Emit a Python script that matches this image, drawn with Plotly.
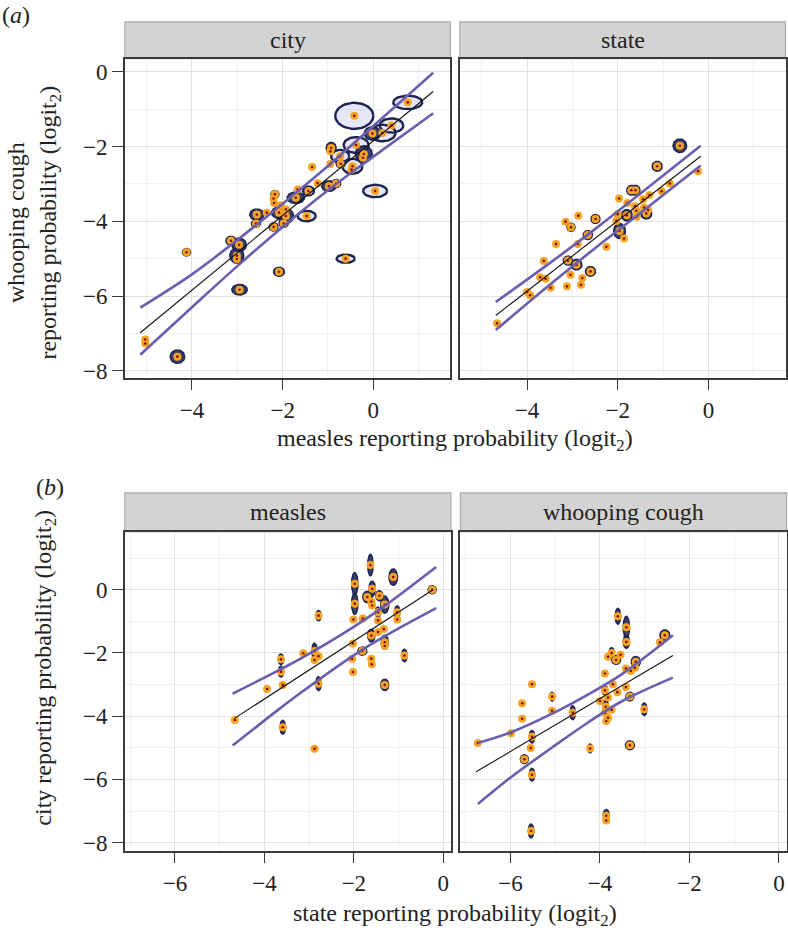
import numpy as np
import plotly.graph_objects as go

W, H = 788, 940

# ---------------- data ----------------
# (a) city: measles (x) vs whooping cough (y) reporting probability, logit2
city_x = [0.76, -0.42, 0.40, 0.20, -0.02, -0.38, -0.93, -0.95, -0.73, -0.21, -0.23, -0.72, -0.95,
          -0.46, -0.48, -1.35, -1.23, -0.98, -0.82, 0.04, -1.43, -1.67, -1.71, -2.17, -2.20, -2.19,
          -2.04, -1.93, -2.08, -1.93, -2.35, -2.57, -1.47, -2.59, -2.20, -1.98, -3.14, -2.96, -3.01,
          -3.01, -4.12, -0.61, -2.08, -2.95, -5.03, -5.03, -4.32]
city_y = [-0.82, -1.18, -1.44, -1.64, -1.65, -1.96, -2.04, -2.13, -2.26, -2.20, -2.30, -2.46, -2.47,
          -2.53, -2.62, -2.55, -2.98, -3.06, -2.99, -3.19, -3.19, -3.15, -3.37, -3.28, -3.39, -3.51,
          -3.57, -3.68, -3.77, -3.86, -3.77, -3.82, -3.86, -4.06, -4.15, -4.06, -4.52, -4.63, -4.92,
          -5.01, -4.83, -5.00, -5.35, -5.83, -7.16, -7.27, -7.62]
city_sx = [0.32, 0.42, 0.26, 0.29, 0.18, 0.275, 0.11, 0, 0.20, 0.185, 0, 0.10, 0,
           0.22, 0, 0, 0, 0.16, 0.10, 0.265, 0.13, 0, 0.19, 0.09, 0, 0,
           0, 0, 0.165, 0.17, 0, 0.155, 0.20, 0.10, 0.10, 0.10, 0.11, 0.16, 0.155,
           0, 0.09, 0.20, 0.12, 0.17, 0, 0, 0.16]
city_sy = [0.18, 0.35, 0.19, 0.22, 0.18, 0.21, 0.15, 0, 0.17, 0.22, 0, 0.11, 0,
           0.20, 0, 0, 0, 0.14, 0.11, 0.165, 0.13, 0, 0.155, 0.10, 0, 0,
           0, 0, 0.155, 0.20, 0, 0.15, 0.14, 0.10, 0.11, 0.11, 0.12, 0.18, 0.20,
           0, 0.10, 0.11, 0.12, 0.14, 0, 0, 0.18]
city_fit_x = [-5.14, 1.32]
city_fit_y = [-6.98, -0.53]
city_band_x = [-5.14, -4.0, -3.0, -2.0, -1.0, 0.0, 1.32]
city_upper = [-6.31, -5.42, -4.50, -3.53, -2.52, -1.45, -0.03]
city_lower = [-7.57, -6.30, -5.20, -4.15, -3.17, -2.27, -1.11]

# (a) state
state_x = [-0.63, -1.13, -0.23, -0.85, -1.03, -1.70, -1.61, -1.30, -1.44, -1.97, -1.79, -1.62, -1.42,
           -1.33, -1.59, -1.37, -1.80, -2.00, -1.58, -2.03, -1.96, -1.86, -2.25, -2.87, -3.15, -3.03,
           -2.49, -2.66, -3.36, -2.88, -3.63, -3.10, -2.91, -2.60, -3.04, -3.71, -3.59, -2.78, -2.81,
           -3.48, -3.12, -4.00, -3.93, -4.66]
state_y = [-1.98, -2.53, -2.66, -2.99, -3.20, -3.17, -3.17, -3.30, -3.41, -3.39, -3.51, -3.60, -3.63,
           -3.70, -3.72, -3.79, -3.84, -3.81, -3.88, -3.99, -4.26, -4.46, -4.68, -3.85, -4.01, -4.16,
           -3.94, -4.37, -4.61, -4.61, -5.06, -5.05, -5.16, -5.34, -5.43, -5.50, -5.54, -5.52, -5.70,
           -5.78, -5.74, -5.89, -5.98, -6.73]
state_sx = [0.15, 0.11, 0, 0, 0, 0.10, 0.10, 0, 0, 0, 0, 0, 0,
            0, 0, 0.12, 0.12, 0, 0, 0, 0.13, 0, 0, 0, 0, 0.09,
            0.10, 0.10, 0, 0, 0, 0.10, 0.12, 0.11, 0, 0, 0, 0, 0,
            0, 0, 0, 0, 0]
state_sy = [0.18, 0.13, 0, 0, 0, 0.13, 0.13, 0, 0, 0, 0, 0, 0,
            0, 0, 0.15, 0.15, 0, 0, 0, 0.20, 0, 0, 0, 0, 0.11,
            0.12, 0.12, 0, 0, 0, 0.12, 0.14, 0.13, 0, 0, 0, 0, 0,
            0, 0, 0, 0, 0]
state_fit_x = [-4.69, -0.17]
state_fit_y = [-6.52, -2.26]
state_band_x = [-4.69, -3.5, -2.5, -1.5, -0.17]
state_upper = [-6.16, -5.12, -4.21, -3.26, -1.98]
state_lower = [-6.91, -5.70, -4.72, -3.78, -2.51]

# (b) measles: state (x) vs city (y)
meas_x = [-0.25, -1.12, -1.63, -1.59, -1.98, -1.98, -2.01, -1.70, -1.43, -1.61, -1.59, -1.31, -1.80,
          -1.46, -1.46, -1.03, -1.03, -2.79, -1.33, -1.46, -1.61, -1.31, -1.31, -2.02, -1.81, -0.87,
          -3.13, -2.88, -2.79, -2.88, -2.04, -1.61, -1.60, -2.02, -3.63, -3.63, -3.59, -3.94, -2.79,
          -1.31, -4.66, -3.59, -2.88]
meas_y = [0.00, 0.40, 0.78, 0.03, 0.19, -0.44, -0.94, -0.23, -0.19, -0.37, -0.50, -0.47, -0.91,
          -0.71, -0.97, -0.71, -0.94, -0.82, -1.24, -1.34, -1.45, -1.66, -1.78, -1.70, -1.94, -2.08,
          -2.01, -1.94, -2.10, -2.22, -2.18, -2.18, -2.36, -2.60, -2.20, -2.59, -3.01, -3.14, -2.97,
          -3.01, -4.12, -4.35, -5.03]
meas_sx = [0.09, 0.095, 0.06, 0.07, 0.07, 0.07, 0, 0.10, 0.08, 0, 0, 0.09, 0,
           0.06, 0, 0.06, 0, 0.06, 0, 0, 0.08, 0.08, 0, 0, 0.10, 0.06,
           0, 0.06, 0, 0, 0, 0, 0, 0, 0.06, 0.06, 0, 0, 0.06,
           0.09, 0, 0.06, 0]
meas_sy = [0.13, 0.26, 0.34, 0.24, 0.35, 0.34, 0, 0.18, 0.16, 0, 0, 0.27, 0,
           0.16, 0, 0.20, 0, 0.16, 0, 0, 0.20, 0.22, 0, 0, 0.13, 0.20,
           0, 0.25, 0, 0, 0, 0, 0, 0, 0.17, 0.17, 0, 0, 0.22,
           0.18, 0, 0.22, 0]
meas_fit_x = [-4.67, -0.23]
meas_fit_y = [-4.07, 0.00]
meas_band_x = [-4.71, -3.63, -3.18, -2.02, -1.31, -0.16]
meas_upper = [-3.29, -2.51, -2.17, -1.19, -0.51, 0.72]
meas_lower = [-4.93, -3.73, -3.25, -2.09, -1.47, -0.58]

# (b) whooping cough
wc_x = [-2.55, -2.66, -3.60, -3.41, -3.41, -3.74, -3.82, -3.54, -3.64, -3.20, -3.22, -3.42, -3.31,
        -3.89, -3.71, -3.42, -3.89, -3.61, -3.33, -3.82, -4.00, -3.87, -3.74, -3.89, -3.82, -3.86,
        -3.01, -4.61, -5.07, -5.07, -5.52, -5.74, -5.74, -5.99, -5.52, -5.55, -5.69, -5.52, -6.73,
        -4.22, -3.33, -5.54, -3.86, -3.86]
wc_y = [-1.44, -1.66, -0.84, -1.19, -1.65, -2.00, -2.12, -2.06, -2.22, -2.28, -2.47, -2.49, -2.57,
        -2.65, -2.99, -3.08, -3.18, -3.24, -3.38, -3.41, -3.52, -3.70, -3.80, -3.89, -4.05, -4.15,
        -3.78, -3.89, -3.38, -3.83, -2.99, -3.59, -4.08, -4.54, -4.65, -5.01, -5.36, -5.85, -4.85,
        -5.02, -4.92, -7.63, -7.15, -7.30]
wc_sx = [0.11, 0, 0.06, 0.07, 0.07, 0.06, 0, 0, 0.10, 0.10, 0, 0, 0,
         0, 0, 0, 0.06, 0, 0.09, 0, 0, 0.06, 0, 0, 0, 0,
         0.06, 0.06, 0.05, 0, 0, 0, 0, 0, 0.06, 0, 0.09, 0.06, 0,
         0.05, 0.10, 0.06, 0.07, 0]
wc_sy = [0.17, 0, 0.25, 0.35, 0.20, 0.17, 0, 0, 0.14, 0.17, 0, 0, 0,
         0, 0, 0, 0.15, 0, 0.14, 0, 0, 0.20, 0, 0, 0, 0,
         0.20, 0.22, 0.14, 0, 0, 0, 0, 0, 0.20, 0, 0.14, 0.20, 0,
         0.14, 0.14, 0.22, 0.20, 0]
wc_fit_x = [-6.77, -2.37]
wc_fit_y = [-5.76, -2.08]
wc_band_x = [-6.73, -5.99, -5.07, -4.3, -3.5, -2.37]
wc_upper = [-4.85, -4.51, -3.92, -3.34, -2.66, -1.44]
wc_lower = [-6.78, -5.93, -4.99, -4.23, -3.52, -2.78]

strip_labels = ["city", "state", "measles", "whooping cough"]
ticks_a_x = [-4, -2, 0]
ticks_a_y = [0, -2, -4, -6, -8]
ticks_b_x = [-6, -4, -2, 0]
ticks_b_y = [0, -2, -4, -6, -8]

# ---------------- styling ----------------
FONT = "'Liberation Serif', 'Times New Roman', 'DejaVu Serif', serif"
ORANGE = "#f6a324"
CORE = "#7c1410"
NAVY = "#1d2350"
PURPLE = "#6a5fae"
AXC = "#3a3a3a"
BIG = 0.2   # half-width (x units) above which a posterior ellipse is drawn open


def px_x(p):
    return p / W


def px_y(p):
    return 1 - p / H


panels = [
    ("x", "y", (125, 451), (59, 380), [-5.48, 1.70], [-8.18, 0.35]),
    ("x2", "y2", (460.5, 786.5), (59, 380), [-5.48, 1.70], [-8.18, 0.35]),
    ("x3", "y3", (125, 451.5), (535, 856), [-7.12, 0.17], [-8.25, 1.84]),
    ("x4", "y4", (461, 787.5), (535, 856), [-7.12, 0.17], [-8.25, 1.84]),
]

datasets = [
    (city_x, city_y, city_sx, city_sy, city_fit_x, city_fit_y, city_band_x, city_upper, city_lower),
    (state_x, state_y, state_sx, state_sy, state_fit_x, state_fit_y, state_band_x, state_upper, state_lower),
    (meas_x, meas_y, meas_sx, meas_sy, meas_fit_x, meas_fit_y, meas_band_x, meas_upper, meas_lower),
    (wc_x, wc_y, wc_sx, wc_sy, wc_fit_x, wc_fit_y, wc_band_x, wc_upper, wc_lower),
]

fig = go.Figure()
t = np.linspace(0, 2 * np.pi, 49)

for (xa, ya, _, _, _, _), (px, py, sx, sy, fx, fy, bx, bu, bl) in zip(panels, datasets):
    groups = {True: ([], []), False: ([], [])}
    for cx, cy, rx, ry in zip(px, py, sx, sy):
        if rx > 0 and ry > 0:
            gx, gy = groups[rx >= BIG]
            gx.extend(list(cx + rx * np.cos(t)) + [None])
            gy.extend(list(cy + ry * np.sin(t)) + [None])
    for big, (gx, gy) in groups.items():
        if not gx:
            continue
        fig.add_trace(go.Scatter(
            x=gx, y=gy, xaxis=xa, yaxis=ya, mode="lines", fill="toself",
            fillcolor="rgba(90,105,185,0.16)" if big else "rgba(32,38,86,0.88)",
            line=dict(color=NAVY, width=2.4 if big else 1.5), hoverinfo="skip",
            showlegend=False))
    fig.add_trace(go.Scatter(x=px, y=py, xaxis=xa, yaxis=ya, mode="markers",
                             marker=dict(size=8, color=ORANGE, line=dict(width=0)),
                             showlegend=False))
    fig.add_trace(go.Scatter(x=px, y=py, xaxis=xa, yaxis=ya, mode="markers",
                             marker=dict(size=2.6, color=CORE, line=dict(width=0)),
                             showlegend=False, hoverinfo="skip"))
    fig.add_trace(go.Scatter(x=fx, y=fy, xaxis=xa, yaxis=ya, mode="lines",
                             line=dict(color="#111111", width=1.1), showlegend=False))
    for band in (bu, bl):
        fig.add_trace(go.Scatter(x=bx, y=band, xaxis=xa, yaxis=ya, mode="lines",
                                 line=dict(color=PURPLE, width=2.6, shape="spline", smoothing=1.0),
                                 showlegend=False))

layout = dict(width=W, height=H, margin=dict(l=0, r=0, t=0, b=0),
              paper_bgcolor="white", plot_bgcolor="white",
              font=dict(family=FONT, color="#222222"))

tickfont = dict(family=FONT, size=23, color="#222222")


def fmt(v):
    return ("\u2212%d" % -v) if v < 0 else str(v)


annotations = []
for i, (xa, ya, xd, yd, xr, yr) in enumerate(panels):
    left = i in (0, 2)
    xkey = "xaxis" + xa[1:]
    ykey = "yaxis" + ya[1:]
    xt = ticks_a_x if i < 2 else ticks_b_x
    yt = ticks_a_y if i < 2 else ticks_b_y
    common = dict(showline=True, mirror=True, linecolor=AXC, linewidth=1.6,
                  ticklen=11, tickwidth=1.4, tickcolor=AXC,
                  showgrid=True, gridcolor="#e2e2e2", gridwidth=1.2, zeroline=False,
                  minor=dict(dtick=1, tick0=0, showgrid=True, gridcolor="#f1f1f1", gridwidth=1),
                  tickfont=tickfont, fixedrange=True, ticklabeloverflow="allow")
    layout[xkey] = dict(domain=[px_x(xd[0]), px_x(xd[1])], range=xr, anchor=ya,
                        tickvals=xt, ticktext=[fmt(v) for v in xt], ticks="outside", **common)
    layout[ykey] = dict(domain=[px_y(yd[1]), px_y(yd[0])], range=yr, anchor=xa,
                        tickvals=yt, ticktext=[fmt(v) for v in yt], showticklabels=left,
                        ticks="outside" if left else "", **common)

shapes = []
strip_rows = [(22, 59), (22, 59), (496, 535), (496, 535)]
for (xa, ya, xd, yd, xr, yr), lab, (s0, s1) in zip(panels, strip_labels, strip_rows):
    shapes.append(dict(type="rect", xref="paper", yref="paper",
                       x0=px_x(xd[0]), x1=px_x(xd[1]), y0=px_y(s1), y1=px_y(s0),
                       fillcolor="#d3d3d3", line=dict(color="#a9a9a9", width=1.2), layer="below"))
    annotations.append(dict(text=lab, xref="paper", yref="paper",
                            x=px_x((xd[0] + xd[1]) / 2), y=px_y((s0 + s1) / 2),
                            xanchor="center", yanchor="middle", showarrow=False,
                            font=dict(family=FONT, size=24, color="#222222")))

title_font = dict(family=FONT, size=24, color="#222222")
annotations += [
    dict(text="(<i>a</i>)", xref="paper", yref="paper", x=px_x(0), y=px_y(15),
         xanchor="left", yanchor="middle", showarrow=False, font=title_font),
    dict(text="(<i>b</i>)", xref="paper", yref="paper", x=px_x(34), y=px_y(490),
         xanchor="left", yanchor="middle", showarrow=False, font=title_font),
    dict(text="measles reporting probability (logit<sub>2</sub>)", xref="paper", yref="paper",
         x=px_x(456), y=px_y(443), xanchor="center", yanchor="middle", showarrow=False,
         font=title_font),
    dict(text="state reporting probability (logit<sub>2</sub>)", xref="paper", yref="paper",
         x=px_x(456), y=px_y(921), xanchor="center", yanchor="middle", showarrow=False,
         font=title_font),
    dict(text="whooping cough<br>reporting probability (logit<sub>2</sub>)", xref="paper",
         yref="paper", x=px_x(34), y=px_y(224), xanchor="center", yanchor="middle",
         textangle=-90, showarrow=False, font=title_font),
    dict(text="city reporting probability (logit<sub>2</sub>)", xref="paper", yref="paper",
         x=px_x(45), y=px_y(672), xanchor="center", yanchor="middle", textangle=-90,
         showarrow=False, font=title_font),
]
layout["shapes"] = shapes
layout["annotations"] = annotations
fig.update_layout(**layout)
fig.write_html("out.html", config={"displayModeBar": False},
               post_script="document.body.style.margin='0';document.body.style.overflow='hidden';")
